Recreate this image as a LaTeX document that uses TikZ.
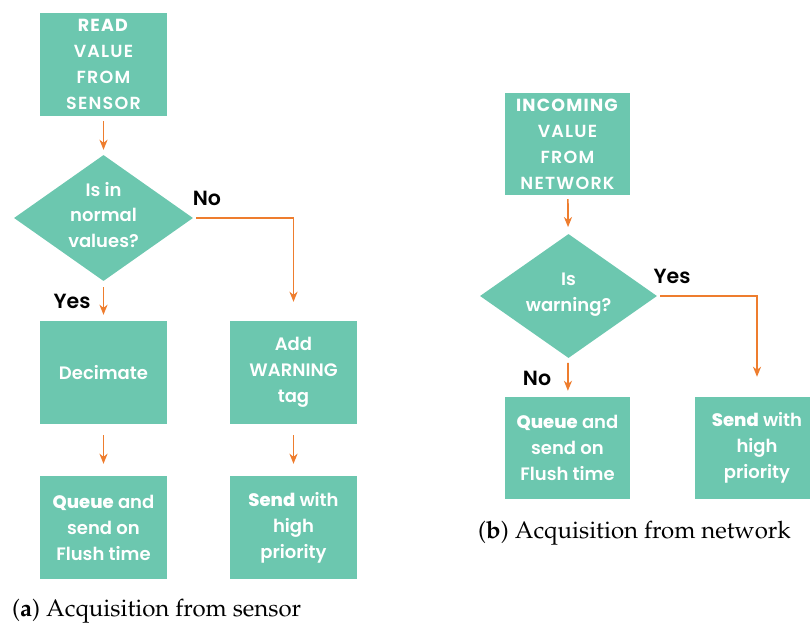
\documentclass[tikz,border=0pt]{standalone}
\usepackage{fontspec}
\setmainfont{Poppins}
\newfontfamily\bxf{Poppins SemiBold}[BoldFont={Poppins ExtraBold}]
\newfontfamily\capsf{Poppins SemiBold}[BoldFont={Poppins Bold}, LetterSpace=7]
\usetikzlibrary{arrows.meta,shapes.geometric}
\definecolor{boxteal}{HTML}{6CC7AF}
\definecolor{arrorange}{HTML}{EE7D2E}
\tikzset{
  box/.style={rectangle, fill=boxteal, minimum width=127pt, minimum height=103pt, inner sep=0pt, text=white, align=center, font=\bxf\fontsize{18}{26}\selectfont},
  capsbox/.style={box, font=\capsf\fontsize{17.5}{26}\selectfont},
  dia/.style={diamond, fill=boxteal, inner sep=0pt},
  dtext/.style={text=white, align=center, font=\bxf\fontsize{18}{25.5}\selectfont},
  arr/.style={draw=arrorange, line width=1.7pt, -{Stealth[length=10pt,width=8pt,inset=3pt]}},
  lab/.style={font=\bxf\fontsize{20.5}{22}\selectfont, text=black},
  captext/.style={anchor=west, inner sep=0pt, font=\fontencoding{OT1}\fontfamily{ppl}\fontsize{24}{28}\selectfont}
}
\begin{document}
\begin{tikzpicture}[x=1pt,y=-1pt]
\clip (0,0) rectangle (810,626);
% (a)
\node[capsbox] (read) at (103.5,64.5) {\textbf{READ}\\VALUE\\FROM\\SENSOR};
\node[dia, minimum width=179pt, minimum height=126pt] (d1) at (103.5,218) {};
\node[dtext] (d1t) at (103.5,215) {Is in\\normal\\values?};
\node[box] (dec) at (103.5,372.5) {Decimate};
\node[box] (add) at (293.5,372.5) {Add\\WARNING\\tag};
\node[box] (queue1) at (103.5,527.5) {\textbf{Queue} and\\send on\\Flush time};
\node[box] (send1) at (293.5,527.5) {\textbf{Send} with\\high\\priority};
\draw[arr, shorten <=5pt, shorten >=5pt] (read) -- (d1);
\draw[arr, shorten <=6pt, shorten >=6pt] (d1) -- (dec);
\draw[arr, shorten <=3pt, shorten >=19pt] (d1.east) -| (add.north);
\draw[arr, shorten <=11pt, shorten >=12pt] (dec) -- (queue1);
\draw[arr, shorten <=11pt, shorten >=12pt] (add) -- (send1);
\node[lab] (no1) at (207,198) {No};
\node[lab] (yes1) at (72,301) {Yes};
\node[captext] (capa) at (12,611) {(\textbf{a}) Acquisition from sensor};
% (b)
\node[capsbox, minimum width=125pt, minimum height=102pt] (inc) at (567.5,144) {\textbf{INCOMING}\\VALUE\\FROM\\NETWORK};
\node[dia, minimum width=177pt, minimum height=124pt] (d2) at (568.5,296) {};
\node[dtext] (d2t) at (568.5,294.5) {Is\\warning?};
\node[box, minimum width=125pt, minimum height=102pt] (queue2) at (567.5,448) {\textbf{Queue} and\\send on\\Flush time};
\node[box, minimum width=125pt, minimum height=102pt] (send2) at (757,448) {\textbf{Send} with\\high\\priority};
\draw[arr, shorten <=4pt, shorten >=7pt] (inc) -- (d2);
\draw[arr, shorten <=5pt, shorten >=6pt] (d2) -- (queue2);
\draw[arr, shorten <=3pt, shorten >=20pt] (d2.east) -| (send2.north);
\node[lab] (yes2) at (672,276) {Yes};
\node[lab] (no2) at (537,378) {No};
\node[captext] (capb) at (478,533) {(\textbf{b}) Acquisition from network};
\end{tikzpicture}
\end{document}
